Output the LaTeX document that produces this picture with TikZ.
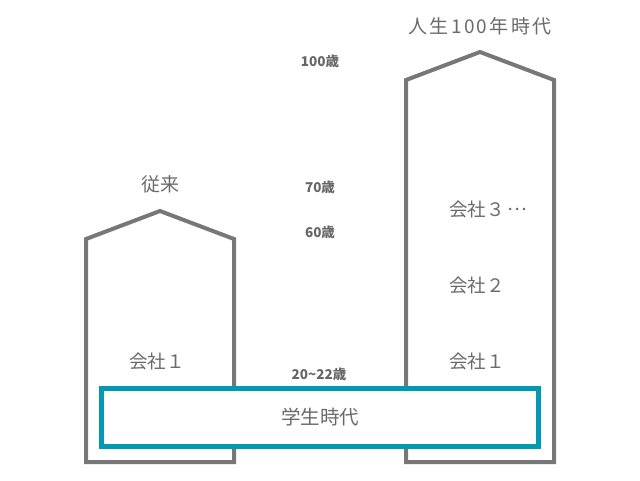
\documentclass[tikz,border=0pt]{standalone}
\usepackage{fontspec}
\setmainfont{Noto Sans CJK JP}
\usetikzlibrary{positioning}
\definecolor{wall_gray}{HTML}{777777}
\definecolor{text_gray}{HTML}{6A6A6A}
\definecolor{age_gray}{HTML}{666666}
\definecolor{school_teal}{HTML}{0399B3}
\tikzset{
    house/.style={draw=wall_gray, line width=4pt, line join=miter},
    heading/.style={text=text_gray, font=\fontsize{19}{19}\selectfont, inner sep=0pt},
    company/.style={text=text_gray, font=\fontsize{18.5}{18.5}\selectfont, inner sep=0pt, anchor=west},
    age/.style={text=age_gray, font=\bfseries\fontsize{13.5}{13.5}\selectfont, inner sep=0pt},
    school/.style={draw=school_teal, line width=5pt, fill=white, text=text_gray, font=\fontsize{19.5}{19.5}\selectfont}
}

\begin{document}
\begin{tikzpicture}[x=1pt, y=-1pt]
        \useasboundingbox (0,0) rectangle (640,480);

        % Houses
        \draw[house] (86,462) -- (86,239) -- (160,211) -- (234,239) -- (234,462) -- cycle;
        \draw[house] (406,462) -- (406,80) -- (480,52) -- (554,80) -- (554,462) -- cycle;

        \node (old_title) [heading] at (160,184) {従来};
        \node (new_title) [heading] at (480,26) {\addfontfeature{LetterSpace=12}人生100年時代};

        % Ages
        \node (age_100) [age] at (320,61) {100歳};
        \node (age_70) [age] at (320,187) {70歳};
        \node (age_60) [age] at (320,232) {60歳};
        \node (age_20) [age] at (319,374) {20\char"007E 22歳};

        % Companies
        \node (old_co1) [company] at (129,361) {会社１};
        \node (new_co1) [company] at (449,361) {会社１};
        \node (new_co2) [company] at (449,285) {会社２};
        \node (new_co3) [company] at (449,209) {会社３\,\raisebox{6pt}{…}};

        % School
        \node (school_box) [school, minimum width=437.5pt, minimum height=58pt] at (320,417.5) {学生時代};

    \end{tikzpicture}
\end{document}
